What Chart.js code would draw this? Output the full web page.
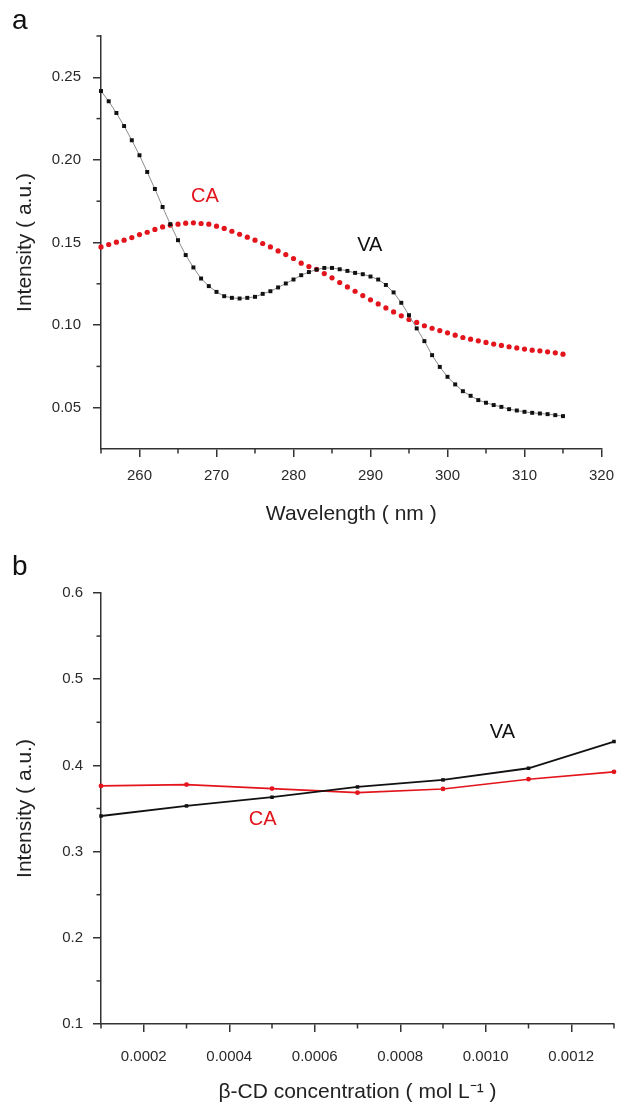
<!DOCTYPE html>
<html lang="en">
<head>
    <meta charset="UTF-8">
    <title>VA / CA intensity</title>
    <script src="https://cdn.jsdelivr.net/npm/chart.js"></script>
    <style>
        body { margin: 0; background: #fff; font-family: "Liberation Sans", Arial, sans-serif; }
        #wrap { position: relative; width: 624px; height: 1106px; }
        canvas { display: block; }
        .panel-tag { position: absolute; left: 12px; font-size: 28px; line-height: 28px; color: #111; }
    </style>
</head>
<body>
<div id="wrap">
    <canvas id="chartA" width="624" height="540"></canvas>
    <canvas id="chartB" width="624" height="566"></canvas>
    <div class="panel-tag" style="top: 6px;">a</div>
    <div class="panel-tag" style="top: 552px;">b</div>
</div>

<script>
    // panel a: spectra
    const wavelengths = [255, 256, 257, 258, 259, 260, 261, 262, 263, 264, 265, 266, 267, 268, 269, 270,
        271, 272, 273, 274, 275, 276, 277, 278, 279, 280, 281, 282, 283, 284, 285, 286, 287, 288, 289, 290,
        291, 292, 293, 294, 295, 296, 297, 298, 299, 300, 301, 302, 303, 304, 305, 306, 307, 308, 309, 310,
        311, 312, 313, 314, 315];
    const spectrumVA = [0.2417, 0.2355, 0.2284, 0.2205, 0.2119, 0.2028, 0.1927, 0.1824, 0.1715, 0.1611,
        0.1514, 0.1424, 0.1349, 0.1282, 0.1236, 0.1201, 0.1175, 0.1165, 0.1161, 0.1165, 0.1171, 0.1189,
        0.1205, 0.1228, 0.1252, 0.1276, 0.1302, 0.1321, 0.1336, 0.1346, 0.1346, 0.1338, 0.1328, 0.1316,
        0.1308, 0.1294, 0.1276, 0.1243, 0.1198, 0.1135, 0.1060, 0.0980, 0.0903, 0.0818, 0.0747, 0.0687,
        0.0641, 0.0600, 0.0572, 0.0546, 0.0530, 0.0516, 0.0505, 0.0491, 0.0483, 0.0475, 0.0469, 0.0465,
        0.0461, 0.0455, 0.0449];
    const spectrumCA = [0.1473, 0.1488, 0.1502, 0.1514, 0.1530, 0.1548, 0.1562, 0.1579, 0.1594, 0.1605,
        0.1611, 0.1617, 0.1619, 0.1615, 0.1611, 0.1599, 0.1585, 0.1568, 0.1550, 0.1532, 0.1514, 0.1494,
        0.1473, 0.1449, 0.1427, 0.1403, 0.1375, 0.1354, 0.1338, 0.1312, 0.1286, 0.1258, 0.1231, 0.1205,
        0.1179, 0.1153, 0.1128, 0.1104, 0.1080, 0.1056, 0.1034, 0.1016, 0.0996, 0.0981, 0.0967, 0.0953,
        0.0939, 0.0925, 0.0915, 0.0905, 0.0895, 0.0885, 0.0877, 0.0869, 0.0862, 0.0855, 0.0848, 0.0844,
        0.0838, 0.0832, 0.0824];
    const aXTicks = [260, 270, 280, 290, 300, 310, 320];
    const aXMinor = [255, 265, 275, 285, 295, 305, 315];
    const aYTicks = [0.05, 0.10, 0.15, 0.20, 0.25];
    const aYMinor = [0.075, 0.125, 0.175, 0.225, 0.275];
    const aNotes = [
        { text: 'CA', x: 268.5, y: 0.1776, color: '#e3141c' },
        { text: 'VA', x: 289.9, y: 0.1484, color: '#111' }
    ];

    // panel b: beta-CD titration
    const concentrations = [0.0001, 0.0003, 0.0005, 0.0007, 0.0009, 0.0011, 0.0013];
    const titrationVA = [0.3413, 0.3530, 0.3631, 0.3750, 0.3832, 0.3967, 0.4277];
    const titrationCA = [0.3762, 0.3777, 0.3731, 0.3684, 0.3727, 0.3840, 0.3925];
    const bXTicks = [0.0002, 0.0004, 0.0006, 0.0008, 0.0010, 0.0012];
    const bXMinor = [0.0001, 0.0003, 0.0005, 0.0007, 0.0009, 0.0011, 0.0013];
    const bYTicks = [0.1, 0.2, 0.3, 0.4, 0.5, 0.6];
    const bYMinor = [0.15, 0.25, 0.35, 0.45, 0.55];
    const bNotes = [
        { text: 'VA', x: 0.001039, y: 0.4381, color: '#111' },
        { text: 'CA', x: 0.000478, y: 0.3367, color: '#e3141c' }
    ];

    const FONT = '"Liberation Sans", Arial, sans-serif';
    const AXIS = '#333';
    Chart.defaults.font.family = FONT;
    Chart.defaults.color = '#222';

    const pairs = (xs, ys) => xs.map((x, i) => ({ x: x, y: ys[i] }));

    // short ticks between the labelled ones
    const minorTicks = {
        id: 'minorTicks',
        afterDraw(chart, args, opts) {
            const ctx = chart.ctx;
            const sx = chart.scales.x, sy = chart.scales.y;
            ctx.save();
            ctx.strokeStyle = AXIS;
            ctx.lineWidth = 1.5;
            opts.x.forEach(v => {
                const px = sx.getPixelForValue(v);
                ctx.beginPath(); ctx.moveTo(px, sx.top); ctx.lineTo(px, sx.top + 4.5); ctx.stroke();
            });
            opts.y.forEach(v => {
                const py = sy.getPixelForValue(v);
                ctx.beginPath(); ctx.moveTo(sy.right, py); ctx.lineTo(sy.right - 4.5, py); ctx.stroke();
            });
            ctx.restore();
        }
    };

    // curve names written next to the curves
    const notes = {
        id: 'notes',
        afterDatasetsDraw(chart, args, opts) {
            const ctx = chart.ctx;
            ctx.save();
            ctx.font = '20px ' + FONT;
            ctx.textAlign = 'center';
            ctx.textBaseline = 'middle';
            opts.items.forEach(n => {
                ctx.fillStyle = n.color;
                ctx.fillText(n.text, chart.scales.x.getPixelForValue(n.x), chart.scales.y.getPixelForValue(n.y));
            });
            ctx.restore();
        }
    };

    function axisOpts(min, max, ticks, digits, yWidthOrXHeight, isY, pad, title, titlePad) {
        return {
            type: 'linear',
            min: min,
            max: max,
            afterBuildTicks: s => { s.ticks = ticks.map(v => ({ value: v })); },
            afterFit: s => { if (isY) s.width = yWidthOrXHeight; else s.height = yWidthOrXHeight; },
            ticks: {
                font: { size: 15 },
                color: '#2a2a2a',
                padding: pad,
                callback: v => Number(v).toFixed(digits)
            },
            grid: { drawOnChartArea: false, tickLength: 8, color: AXIS, lineWidth: 1.5 },
            border: { display: true, color: AXIS, width: 1.5 },
            title: {
                display: true,
                text: title,
                font: { size: 21 },
                color: '#222',
                padding: titlePad
            }
        };
    }

    new Chart(document.getElementById('chartA'), {
        type: 'line',
        data: {
            datasets: [{
                label: 'VA',
                data: pairs(wavelengths, spectrumVA),
                borderColor: '#8c8c8c',
                borderWidth: 1,
                pointStyle: 'rect',
                pointRadius: 2.8,
                pointBackgroundColor: '#111',
                pointBorderWidth: 0,
                tension: 0,
                clip: false
            }, {
                label: 'CA',
                data: pairs(wavelengths, spectrumCA),
                showLine: false,
                pointStyle: 'circle',
                pointRadius: 2.6,
                pointBackgroundColor: '#e3141c',
                pointBorderWidth: 0,
                clip: false
            }]
        },
        options: {
            responsive: false,
            animation: false,
            layout: { padding: { left: 0, top: 36, right: 13, bottom: 0 } },
            scales: {
                x: axisOpts(255, 320, aXTicks, 0, 91, false, 10, 'Wavelength ( nm )', { top: 4, bottom: 13 }),
                y: axisOpts(0.025, 0.275, aYTicks, 2, 101, true, 12, 'Intensity ( a.u.)', { top: 13, bottom: 4 })
            },
            plugins: {
                legend: { display: false },
                tooltip: { enabled: false },
                minorTicks: { x: aXMinor, y: aYMinor },
                notes: { items: aNotes }
            }
        },
        plugins: [minorTicks, notes]
    });

    new Chart(document.getElementById('chartB'), {
        type: 'line',
        data: {
            datasets: [{
                label: 'VA',
                data: pairs(concentrations, titrationVA),
                borderColor: '#111',
                borderWidth: 1.8,
                pointStyle: 'rect',
                pointRadius: 2.5,
                pointBackgroundColor: '#111',
                pointBorderWidth: 0,
                tension: 0,
                clip: false
            }, {
                label: 'CA',
                data: pairs(concentrations, titrationCA),
                borderColor: '#e3141c',
                borderWidth: 1.6,
                pointStyle: 'circle',
                pointRadius: 2.4,
                pointBackgroundColor: '#e3141c',
                pointBorderWidth: 0,
                tension: 0,
                clip: false
            }]
        },
        options: {
            responsive: false,
            animation: false,
            layout: { padding: { left: 0, top: 53, right: 10, bottom: 0 } },
            scales: {
                x: axisOpts(0.0001, 0.0013, bXTicks, 4, 82, false, 16, 'β-CD concentration ( mol L⁻¹ )', { top: 4, bottom: 1 }),
                y: axisOpts(0.1, 0.6, bYTicks, 1, 101, true, 10, 'Intensity ( a.u.)', { top: 13, bottom: 4 })
            },
            plugins: {
                legend: { display: false },
                tooltip: { enabled: false },
                minorTicks: { x: bXMinor, y: bYMinor },
                notes: { items: bNotes }
            }
        },
        plugins: [minorTicks, notes]
    });
</script>
</body>
</html>
